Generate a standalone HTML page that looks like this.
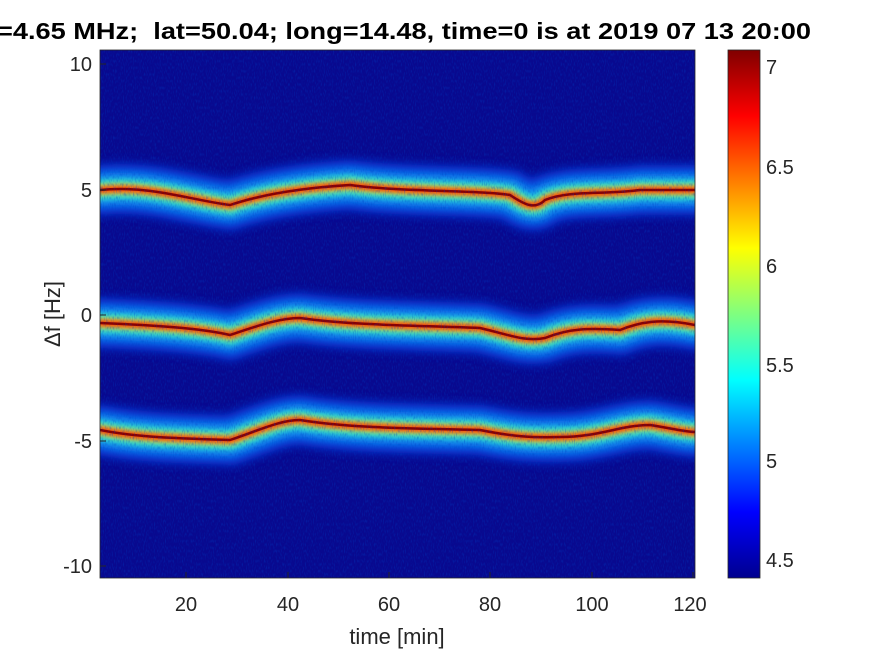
<!DOCTYPE html>
<html><head><style>body{margin:0;background:#fff}svg{display:block}</style></head><body>
<svg width="875" height="656" viewBox="0 0 875 656" xmlns="http://www.w3.org/2000/svg" font-family="Liberation Sans, sans-serif">
<defs>
<linearGradient id="jet" x1="0" y1="1" x2="0" y2="0">
<stop offset="0" stop-color="#00008f"/><stop offset="0.125" stop-color="#0000ff"/><stop offset="0.375" stop-color="#00ffff"/><stop offset="0.625" stop-color="#ffff00"/><stop offset="0.875" stop-color="#ff0000"/><stop offset="1" stop-color="#800000"/>
</linearGradient>
<filter id="b1" x="-10%" y="-50%" width="120%" height="200%"><feGaussianBlur stdDeviation="5"/></filter>
<filter id="b2" x="-10%" y="-50%" width="120%" height="200%"><feGaussianBlur stdDeviation="2.5"/></filter>
<filter id="speck"><feTurbulence type="fractalNoise" baseFrequency="0.9 0.3" numOctaves="1" seed="3"/><feColorMatrix type="matrix" values="0 0 0 0 0  0 0 0 0 0.05  0 0 0 0 0.55  0 0 0 -3 1.6"/></filter>
<clipPath id="pc"><rect x="100" y="50" width="595" height="528"/></clipPath>
<g id="bands">
<path id="t" d="M100,190 C150,185 190,200 230,205 C260,195 300,188 350,185 C400,192 480,190 510,195 C525,205 535,210 545,200 C570,190 600,195 640,190 C665,190 680,190 695,190"/>
<path id="m" d="M100,323 C150,325 200,328 230,335 C260,325 280,318 300,318 C350,325 400,325 480,328 C510,335 525,342 545,338 C570,328 590,328 620,330 C640,322 660,318 695,325"/>
<path id="l" d="M100,430 C130,436 160,438 230,440 C260,430 280,420 300,420 C350,428 400,428 480,430 C510,436 530,438 560,437 C600,437 620,425 650,425 C670,428 685,432 695,432"/>
</g>
</defs>
<rect x="100" y="50" width="595" height="528" fill="#08098f"/>
<g clip-path="url(#pc)" fill="none" stroke-linecap="round">
<g stroke="#0a40e8" stroke-width="50" filter="url(#b1)" opacity="0.85"><use href="#t"/><use href="#m"/><use href="#l"/></g>
<g stroke="#10a0f0" stroke-width="32" filter="url(#b1)"><use href="#t"/><use href="#m"/><use href="#l"/></g>
<g stroke="#40e0c0" stroke-width="20" filter="url(#b2)" opacity="0.9"><use href="#t"/><use href="#m"/><use href="#l"/></g>
<g stroke="#f0e020" stroke-width="10" filter="url(#b2)" opacity="0.85"><use href="#t"/><use href="#m"/><use href="#l"/></g>
<g stroke="#ff3000" stroke-width="6" filter="url(#b2)"><use href="#t"/><use href="#m"/><use href="#l"/></g>
<g stroke="#8a0000" stroke-width="2.5"><use href="#t"/><use href="#m"/><use href="#l"/></g>
<rect x="100" y="50" width="595" height="528" filter="url(#speck)" opacity="0.35"/>
</g>
<rect x="100" y="50" width="595" height="528" fill="none" stroke="#262626" stroke-width="0.8"/>
<g fill="#262626" font-size="20" text-anchor="end">
<text x="92" y="71">10</text><text x="92" y="197">5</text><text x="92" y="322">0</text><text x="92" y="448">-5</text><text x="92" y="573">-10</text>
</g>
<g stroke="#262626"><line x1="100" y1="64" x2="106" y2="64"/><line x1="100" y1="190" x2="106" y2="190"/><line x1="100" y1="315" x2="106" y2="315"/><line x1="100" y1="441" x2="106" y2="441"/><line x1="100" y1="566" x2="106" y2="566"/>
<line x1="186" y1="578" x2="186" y2="572"/><line x1="288" y1="578" x2="288" y2="572"/><line x1="389" y1="578" x2="389" y2="572"/><line x1="490" y1="578" x2="490" y2="572"/><line x1="592" y1="578" x2="592" y2="572"/><line x1="693" y1="578" x2="693" y2="572"/></g>
<g fill="#262626" font-size="20" text-anchor="middle">
<text x="186" y="611">20</text><text x="288" y="611">40</text><text x="389" y="611">60</text><text x="490" y="611">80</text><text x="592" y="611">100</text><text x="690" y="611">120</text>
<text x="397" y="644" font-size="22">time [min]</text>
<text transform="translate(60,314) rotate(-90)" font-size="22">Δf [Hz]</text>
</g>
<text x="-3" y="39" font-size="23" font-weight="bold" fill="#000" textLength="814" lengthAdjust="spacingAndGlyphs" xml:space="preserve">=4.65 MHz;  lat=50.04; long=14.48, time=0 is at 2019 07 13 20:00</text>
<rect x="728" y="50" width="32" height="528" fill="url(#jet)" stroke="#262626" stroke-width="0.8"/>
<g fill="#262626" font-size="20">
<text x="766" y="74">7</text><text x="766" y="174">6.5</text><text x="766" y="273">6</text><text x="766" y="372">5.5</text><text x="766" y="468">5</text><text x="766" y="567">4.5</text>
</g>
</svg>
</body></html>
